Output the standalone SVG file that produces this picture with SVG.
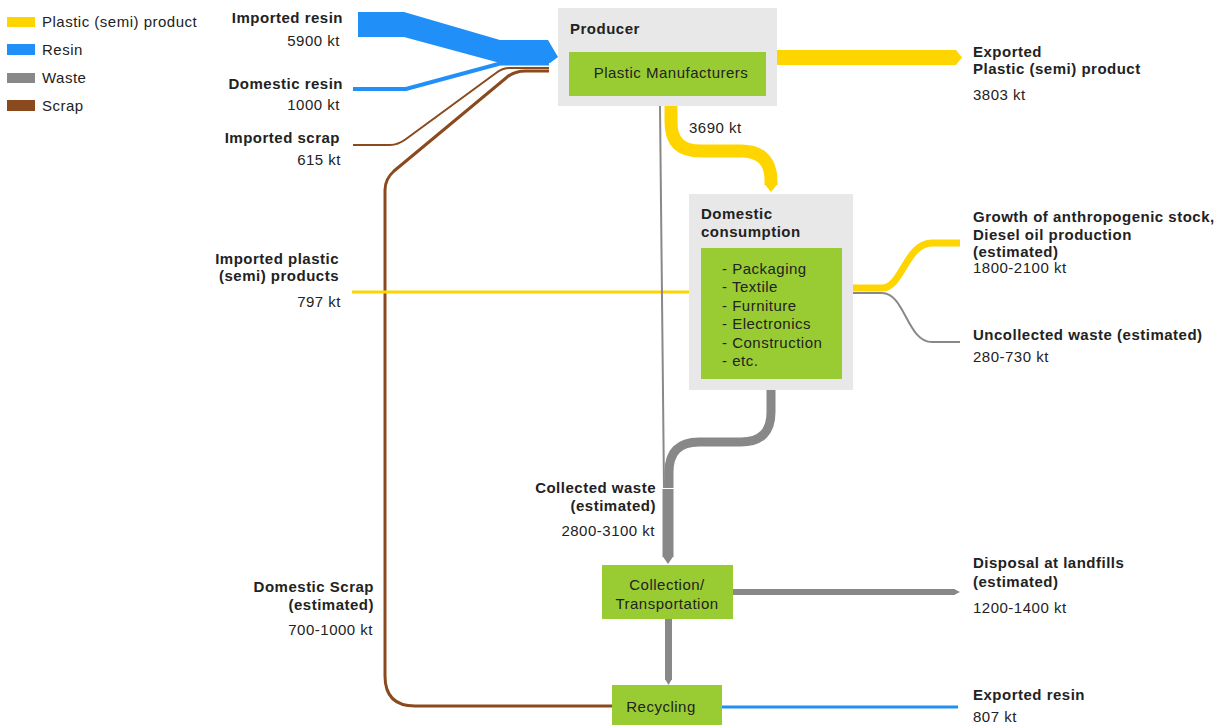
<svg xmlns="http://www.w3.org/2000/svg" width="1225" height="725" viewBox="0 0 1225 725">
<style>
text{font-family:"Liberation Sans",Arial,sans-serif;font-size:15px;fill:#222;letter-spacing:0.5px}
.b{font-weight:bold}
.e{text-anchor:end}
.m{text-anchor:middle}
.box{fill:#e8e8e8}
.grn{fill:#99cc33}
.y{stroke:#ffd500;fill:none}
.bl{stroke:#2090f8;fill:none}
.g{stroke:#888;fill:none}
.br{stroke:#8b4a1e;fill:none}
</style>
<rect width="1225" height="725" fill="#fff"/>
<g id="legend">
<rect x="7" y="17" width="28" height="10" fill="#ffd500"/>
<text x="42" y="27">Plastic (semi) product</text>
<rect x="7" y="44" width="28" height="11" fill="#2090f8"/>
<text x="42" y="55">Resin</text>
<rect x="7" y="73" width="28" height="10" fill="#888"/>
<text x="42" y="83">Waste</text>
<rect x="7" y="100" width="28" height="11" fill="#8b4a1e"/>
<text x="42" y="111">Scrap</text>
</g>
<g id="connectors">
<path d="M358,12 L404,12 L500,40 L548,40 L558,57 L550,63 L500,63 L404,37 L358,37 Z" fill="#2090f8"/>
<path class="bl" stroke-width="4" d="M353,89 L406,89 L500,63.5 L549,63.5"/>
<path class="br" stroke-width="2" d="M353,145 L390,145 Q398,145 406,139 L496,73 Q502,68 510,68 L549,68"/>
<path class="br" stroke-width="3" d="M612,706 L415,706 Q385,706 385,676 L385,190 Q385,179 394,171 L506,78 Q514,71 526,71 L549,71"/>
<path d="M777,50 L956,50 L962,57.5 L956,65 L777,65 Z" fill="#ffd500"/>
<path class="y" stroke-width="13" d="M671,106 L671,122 C671,142 681,151 701,151 L741,151 C761,151 771,161 771,181 L771,185"/>
<path d="M764.5,184 L777.5,184 L771,192 Z" fill="#ffd500"/>
<path class="y" stroke-width="3" d="M352,292 L689,292"/>
<path class="y" stroke-width="7" d="M853,288 L882,288 C902,288 906,243 932,243 L960,243"/>
<path class="g" stroke-width="2" d="M853,293 L882,293 C905,293 907,342 932,342 L960,342"/>
<path class="g" stroke-width="2" d="M660,106 L664,488"/>
<path class="g" stroke-width="9" d="M771,389 L771,412 Q771,442 741,442 L699,442 Q669,442 669,472 L669,488"/>
<path class="g" stroke-width="11" d="M668,489 L668,557"/>
<path d="M662.5,556 L673.5,556 L668,564 Z" fill="#888"/>
<path class="g" stroke-width="6" d="M733,592 L955,592"/>
<path d="M954,589 L960,592 L954,595 Z" fill="#888"/>
<path class="g" stroke-width="7" d="M668.5,619 L668.5,680"/>
<path d="M665,679 L672,679 L668.5,685 Z" fill="#888"/>
<path class="bl" stroke-width="3" d="M722,707 L958,707"/>
</g>
<g id="producer">
<rect class="box" x="558" y="8" width="219" height="98"/>
<text class="b" x="570" y="34">Producer</text>
<rect class="grn" x="569" y="52" width="197" height="44"/>
<text class="m" x="671" y="78">Plastic Manufacturers</text>
</g>
<g id="consumption">
<rect class="box" x="689" y="194" width="164" height="196"/>
<text class="b" x="701" y="219">Domestic</text>
<text class="b" x="701" y="237">consumption</text>
<rect class="grn" x="701" y="248" width="141" height="131"/>
<text x="722" y="274">- Packaging</text>
<text x="722" y="292">- Textile</text>
<text x="722" y="311">- Furniture</text>
<text x="722" y="329">- Electronics</text>
<text x="722" y="348">- Construction</text>
<text x="722" y="366">- etc.</text>
</g>
<g id="collection">
<rect class="grn" x="602" y="565" width="131" height="54"/>
<text class="m" x="667" y="590">Collection/</text>
<text class="m" x="667" y="609">Transportation</text>
</g>
<g id="recycling">
<rect class="grn" x="612" y="685" width="110" height="40"/>
<text class="m" x="661" y="712">Recycling</text>
</g>
<g id="imported-resin">
<text class="b e" x="343" y="23">Imported resin</text>
<text class="e" x="340" y="46">5900 kt</text>
</g>
<g id="domestic-resin">
<text class="b e" x="343" y="89">Domestic resin</text>
<text class="e" x="340" y="110">1000 kt</text>
</g>
<g id="imported-scrap">
<text class="b e" x="340" y="143">Imported scrap</text>
<text class="e" x="341" y="165">615 kt</text>
</g>
<g id="imported-plastic">
<text class="b e" x="339" y="264">Imported plastic</text>
<text class="b e" x="339" y="281">(semi) products</text>
<text class="e" x="341" y="307">797 kt</text>
</g>
<g id="domestic-scrap">
<text class="b e" x="374" y="592">Domestic Scrap</text>
<text class="b e" x="374" y="610">(estimated)</text>
<text class="e" x="373" y="635">700-1000 kt</text>
</g>
<g id="collected-waste">
<text class="b e" x="656" y="493">Collected waste</text>
<text class="b e" x="656" y="511">(estimated)</text>
<text class="e" x="655" y="536">2800-3100 kt</text>
</g>
<g id="flow-3690">
<text x="689" y="133">3690 kt</text>
</g>
<g id="exported-plastic">
<text class="b" x="973" y="57">Exported</text>
<text class="b" x="973" y="74">Plastic (semi) product</text>
<text x="973" y="100">3803 kt</text>
</g>
<g id="growth-stock">
<text class="b" x="973" y="222">Growth of anthropogenic stock,</text>
<text class="b" x="973" y="240">Diesel oil production</text>
<text class="b" x="973" y="257">(estimated)</text>
<text x="973" y="273">1800-2100 kt</text>
</g>
<g id="uncollected-waste">
<text class="b" x="973" y="340">Uncollected waste (estimated)</text>
<text x="973" y="362">280-730 kt</text>
</g>
<g id="landfills">
<text class="b" x="973" y="568">Disposal at landfills</text>
<text class="b" x="973" y="587">(estimated)</text>
<text x="973" y="613">1200-1400 kt</text>
</g>
<g id="exported-resin">
<text class="b" x="973" y="700">Exported resin</text>
<text x="973" y="722">807 kt</text>
</g>
</svg>
